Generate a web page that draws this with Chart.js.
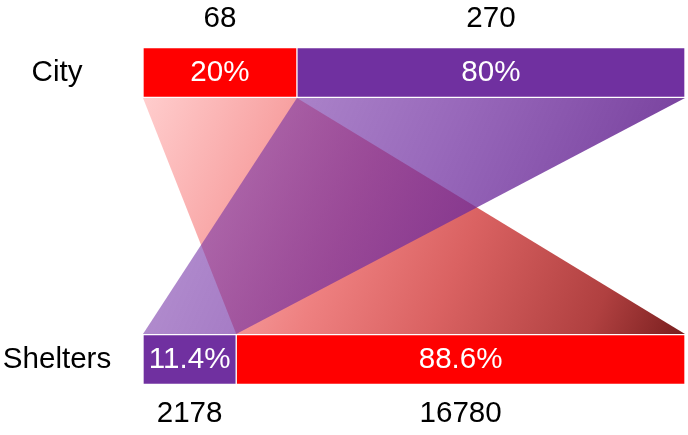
<!DOCTYPE html>
<html>
<head>
<meta charset="utf-8">
<script src="https://cdn.jsdelivr.net/npm/chart.js@4"></script>
<style>
  html, body { margin: 0; padding: 0; background: #ffffff; }
  #wrap { width: 688px; height: 435px; }
</style>
</head>
<body>
<div id="wrap"><canvas id="c" width="688" height="435"></canvas></div>
<script>
// ---- data ----
const categories = ['City', 'Shelters'];
// displayed width share (%) of the first and second segment of each bar
const firstSegmentShare = [28.4, 17.2];
const secondSegmentShare = [71.6, 82.8];
// labels inside the segments
const firstSegmentPercent = ['20%', '11.4%'];
const secondSegmentPercent = ['80%', '88.6%'];
// counts shown outside the bars
const firstSegmentCount = [68, 2178];
const secondSegmentCount = [270, 16780];
// which segment of the City bar flows to which segment of the Shelters bar
const flowFromSegment = [0, 1];
const flowToSegment = [1, 0];

// ---- styles ----
const RED = '#FF0000';
const PURPLE = '#7030A0';
const firstSegmentColors = [RED, PURPLE];
const secondSegmentColors = [PURPLE, RED];
const FONT = '29px "Liberation Sans", Arial, sans-serif';
const STRETCH = 1.02;

function drawText(ctx, text, x, y, color) {
  ctx.save();
  ctx.translate(x, y);
  ctx.scale(STRETCH, 1);
  ctx.font = FONT;
  ctx.fillStyle = color;
  ctx.textAlign = 'center';
  ctx.textBaseline = 'middle';
  ctx.fillText(text, 0, 0);
  ctx.restore();
}

function segBox(chart, datasetIndex, index) {
  const el = chart.getDatasetMeta(datasetIndex).data[index];
  const p = el.getProps(['x', 'y', 'base', 'height'], true);
  const left = Math.min(p.x, p.base), right = Math.max(p.x, p.base);
  return { left, right, top: p.y - p.height / 2, bottom: p.y + p.height / 2, cx: (left + right) / 2, cy: p.y };
}

function segColor(datasetIndex, index) {
  return datasetIndex === 0 ? firstSegmentColors[index] : secondSegmentColors[index];
}

const ribbonPlugin = {
  id: 'ribbons',
  beforeDatasetsDraw(chart) {
    const ctx = chart.ctx;
    const order = [0, 1]; // red ribbon first, purple on top
    order.forEach(k => {
      const a = segBox(chart, flowFromSegment[k], 0);
      const b = segBox(chart, flowToSegment[k], 1);
      const y0 = a.bottom + 0.5, y1 = b.top - 0.5;
      const minX = Math.min(a.left, b.left), maxX = Math.max(a.right, b.right);
      const g = ctx.createLinearGradient(minX, y0, maxX, y1);
      const color = segColor(flowFromSegment[k], 0);
      if (color === RED) {
        g.addColorStop(0, '#FFCDCD');
        g.addColorStop(0.22, '#F8A4A4');
        g.addColorStop(0.4, '#EE8080');
        g.addColorStop(0.6, '#DA6262');
        g.addColorStop(0.85, '#B04040');
        g.addColorStop(1, '#781E1E');
      } else {
        g.addColorStop(0, 'rgba(118,52,170,0.50)');
        g.addColorStop(0.5, 'rgba(112,46,160,0.72)');
        g.addColorStop(1, 'rgba(100,40,140,0.95)');
      }
      ctx.save();
      ctx.beginPath();
      ctx.moveTo(a.left, y0);
      ctx.lineTo(a.right, y0);
      ctx.lineTo(b.right, y1);
      ctx.lineTo(b.left, y1);
      ctx.closePath();
      ctx.fillStyle = g;
      ctx.fill();
      ctx.restore();
    });
  },
  afterDatasetsDraw(chart) {
    const ctx = chart.ctx;
    const yScale = chart.scales.y;
    categories.forEach((cat, i) => {
      const y = yScale.getPixelForValue(i);
      drawText(ctx, cat, 57, y + 0.5, '#000000');
      const s0 = segBox(chart, 0, i), s1 = segBox(chart, 1, i);
      drawText(ctx, firstSegmentPercent[i], s0.cx, s0.cy + 0.5, '#FFFFFF');
      drawText(ctx, secondSegmentPercent[i], s1.cx, s1.cy + 0.5, '#FFFFFF');
      const cy = i === 0 ? s0.top - 29 : s0.bottom + 29;
      drawText(ctx, String(firstSegmentCount[i]), s0.cx, cy, '#000000');
      drawText(ctx, String(secondSegmentCount[i]), s1.cx, cy, '#000000');
    });
  }
};

new Chart(document.getElementById('c'), {
  type: 'bar',
  data: {
    labels: categories,
    datasets: [
      {
        data: firstSegmentShare,
        backgroundColor: firstSegmentColors,
        borderColor: 'rgba(255,255,255,0.55)',
        borderWidth: 1,
        borderSkipped: false,
        barThickness: 50,
        clip: false
      },
      {
        data: secondSegmentShare,
        backgroundColor: secondSegmentColors,
        borderColor: 'rgba(255,255,255,0.55)',
        borderWidth: 1,
        borderSkipped: false,
        barThickness: 50,
        clip: false
      }
    ]
  },
  options: {
    indexAxis: 'y',
    responsive: false,
    animation: false,
    layout: { padding: { left: 143, right: 3, top: 72.5, bottom: 75.5 } },
    plugins: { legend: { display: false }, tooltip: { enabled: false } },
    scales: {
      x: { stacked: true, min: 0, max: 100, display: false },
      y: { stacked: true, offset: false, display: false }
    }
  },
  plugins: [ribbonPlugin]
});
</script>
</body>
</html>
